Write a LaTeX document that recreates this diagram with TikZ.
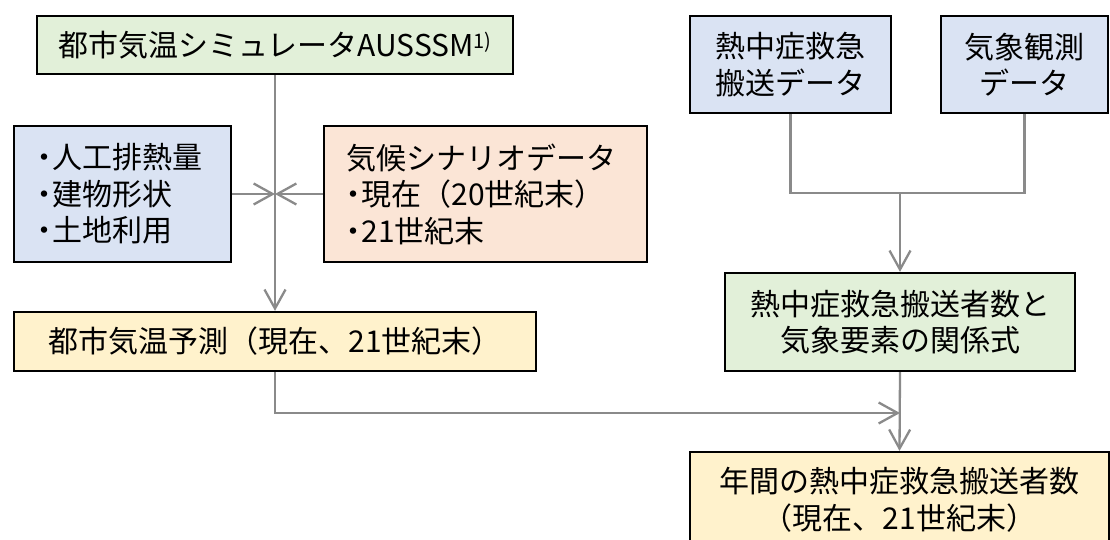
\documentclass[tikz,border=0pt]{standalone}
\usepackage{fontspec}
\newfontfamily\jp{Noto Sans CJK JP}
\usetikzlibrary{arrows.meta}
\definecolor{gfill}{HTML}{E2F0D9}
\definecolor{bfill}{HTML}{DAE3F3}
\definecolor{ofill}{HTML}{FBE5D6}
\definecolor{yfill}{HTML}{FFF2CC}
\definecolor{conn}{HTML}{8A8A8A}
\newcommand\dotc{\makebox[15.5pt][c]{・}}
\tikzset{
  box/.style={draw=black, line width=2.2pt, rectangle, inner xsep=0pt, inner ysep=0pt,
    font=\jp\fontsize{30}{36.5}\selectfont, align=center, text=black},
  lbox/.style={box, align=left},
  line/.style={draw=conn, line width=2.3pt},
  arr/.style={line, -{Straight Barb[length=19pt,width=21pt]}},
}
\begin{document}
\begin{tikzpicture}[x=1pt,y=-1pt]
\useasboundingbox (0,0) rectangle (1110,540);
\clip (0,0) rectangle (1110,540);
\node[box, fill=gfill, minimum width=476pt, minimum height=58pt] (sim) at (275,45)
  {都市気温シミュレータAUSSSM\raisebox{8pt}{\fontsize{20}{20}\selectfont 1)}};
\node[lbox, fill=bfill, minimum width=217pt, minimum height=136pt, text width=171pt] (inp) at (122.5,194)
  {\dotc 人工排熱量\\\dotc 建物形状\\\dotc 土地利用};
\node[lbox, fill=ofill, minimum width=323pt, minimum height=136pt, text width=279pt] (clim) at (485.5,194)
  {気候シナリオデータ\\\dotc 現在（20世紀末）\\\dotc 21世紀末};
\node[box, fill=yfill, minimum width=522pt, minimum height=59pt] (pred) at (275,341.5)
  {都市気温予測（現在、21世紀末）};
\node[box, fill=bfill, minimum width=201pt, minimum height=97pt] (hsd) at (790.5,64.5)
  {熱中症救急\\搬送データ};
\node[box, fill=bfill, minimum width=167pt, minimum height=97pt] (obs) at (1024.5,64.5)
  {気象観測\\データ};
\node[box, fill=gfill, minimum width=350pt, minimum height=98pt] (rel) at (900,322)
  {熱中症救急搬送者数と\\気象要素の関係式};
\node[box, fill=yfill, minimum width=419pt, minimum height=96pt] (out) at (899.5,500)
  {年間の熱中症救急搬送者数\\（現在、21世紀末）};
\coordinate (x1) at (275,194);
\coordinate (j1) at (900,193);
\coordinate (j2) at (900,413);
\draw[arr] (sim.south) -- (pred.north);
\draw[arr] (inp.east) -- (x1);
\draw[arr] (clim.west) -- (x1);
\draw[arr] (pred.south) |- (j2);
\draw[line] (hsd.south) |- (j1);
\draw[line] (obs.south) |- (j1);
\draw[arr] (j1) -- (rel.north);
\draw[arr] (rel.south) -- (out.north);
\end{tikzpicture}
\end{document}
